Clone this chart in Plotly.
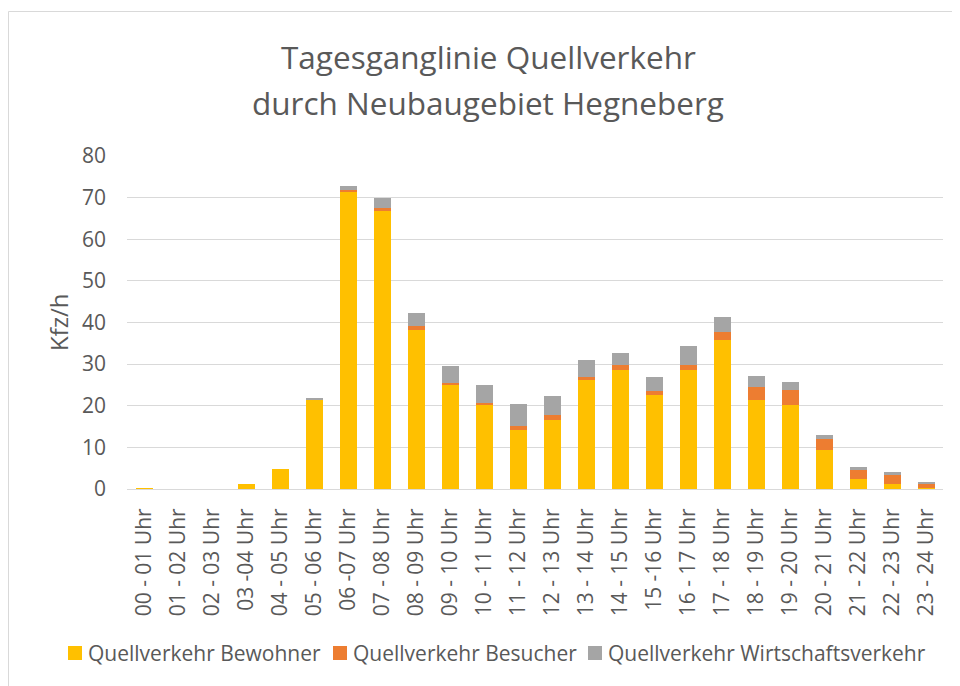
import plotly.graph_objects as go

categories = ["00 - 01 Uhr", "01 - 02 Uhr", "02 - 03 Uhr", "03 -04 Uhr", "04 - 05 Uhr", "05 - 06 Uhr",
              "06 -07 Uhr", "07 - 08 Uhr", "08 - 09 Uhr", "09 - 10 Uhr", "10 - 11 Uhr", "11 - 12 Uhr",
              "12 - 13 Uhr", "13 - 14 Uhr", "14 - 15 Uhr", "15 -16 Uhr", "16 - 17 Uhr", "17 - 18 Uhr",
              "18 - 19 Uhr", "19 - 20 Uhr", "20 - 21 Uhr", "21 - 22 Uhr", "22 - 23 Uhr", "23 - 24 Uhr"]

bewohner = [0.1, 0, 0, 1.3, 4.8, 21.4, 71.5, 66.7, 38.1, 25.0, 20.2, 14.2,
            16.6, 26.2, 28.6, 22.6, 28.6, 35.7, 21.3, 20.1, 9.4, 2.3, 1.1, 0.2]
besucher = [0, 0, 0, 0, 0, 0.1, 0.4, 0.7, 1.0, 0.4, 0.4, 1.0,
            1.2, 0.8, 1.1, 0.9, 1.2, 2.0, 3.2, 3.7, 2.7, 2.3, 2.3, 1.2]
wirtschaft = [0, 0, 0, 0, 0, 0.4, 0.9, 2.5, 3.1, 4.1, 4.4, 5.2,
              4.5, 4.0, 2.9, 3.5, 4.5, 3.7, 2.6, 1.8, 0.9, 0.6, 0.6, 0.4]

title_lines = ["Tagesganglinie Quellverkehr", "durch Neubaugebiet Hegneberg"]
y_title = "Kfz/h"
series_names = ["Quellverkehr Bewohner", "Quellverkehr Besucher", "Quellverkehr Wirtschaftsverkehr"]
series_colors = ["#FFC000", "#ED7D31", "#A5A5A5"]
series_values = [bewohner, besucher, wirtschaft]

FONT = "Open Sans"
TXT = "#595959"
GRID = "#D9D9D9"

# page has an 8px body margin: figure coords = screen coords - 8
OFF = 8
W, H = 960 - OFF, 686 - OFF
SL, SR, ST, SB = 127, 943, 156, 489
L, T = SL - OFF, ST - OFF
R = W - (SR - OFF)
B = H - (SB - OFF)
pw, ph = W - L - R, H - T - B


def px(sx):
    return (sx - OFF - L) / pw


def py(sy):
    return (H - B - (sy - OFF)) / ph


fig = go.Figure()
for name, vals, col in zip(series_names, series_values, series_colors):
    fig.add_trace(go.Bar(x=categories, y=vals, name=name, showlegend=False,
                         marker=dict(color=col, line=dict(width=0))))

annotations = [
    dict(text=title_lines[0], x=px(488), y=py(56), xref="paper", yref="paper",
         xanchor="center", yanchor="middle", showarrow=False,
         font=dict(size=31.5, color=TXT, family=FONT)),
    dict(text=title_lines[1], x=px(488), y=py(103), xref="paper", yref="paper",
         xanchor="center", yanchor="middle", showarrow=False,
         font=dict(size=31.5, color=TXT, family=FONT)),
    dict(text=y_title, x=px(58), y=py(322), xref="paper", yref="paper",
         xanchor="center", yanchor="middle", showarrow=False, textangle=-90,
         font=dict(size=24, color=TXT, family=FONT)),
]

shapes = [
    dict(type="line", xref="paper", yref="paper", x0=px(8.5), x1=px(960), y0=py(11.5), y1=py(11.5),
         line=dict(color=GRID, width=1)),
    dict(type="line", xref="paper", yref="paper", x0=px(8.5), x1=px(8.5), y0=py(11.5), y1=py(686),
         line=dict(color=GRID, width=1)),
]

# custom legend (square + label), screen x positions of the squares
legend_x = [68, 333, 588]
for lx, name, col in zip(legend_x, series_names, series_colors):
    shapes.append(dict(type="rect", xref="paper", yref="paper",
                       x0=px(lx), x1=px(lx + 14), y0=py(660), y1=py(646),
                       fillcolor=col, line=dict(width=0)))
    annotations.append(dict(text=name, x=px(lx + 18), y=py(653), xref="paper", yref="paper",
                            xanchor="left", yanchor="middle", showarrow=False,
                            font=dict(size=21, color=TXT, family=FONT)))

fig.update_layout(
    width=W, height=H,
    barmode="stack", bargap=0.5,
    margin=dict(l=L, r=R, t=T, b=B, autoexpand=False),
    paper_bgcolor="white", plot_bgcolor="white",
    font=dict(family=FONT, color=TXT),
    showlegend=False,
    xaxis=dict(tickangle=-90, tickfont=dict(size=21, color=TXT), showgrid=False,
               showline=True, linecolor=GRID, linewidth=1, ticks="",
               ticklabelstandoff=10, automargin=False),
    yaxis=dict(range=[0, 80], dtick=10, tickfont=dict(size=21, color=TXT),
               gridcolor=GRID, gridwidth=1, zeroline=False, showline=False,
               ticks="", ticklabelstandoff=20, automargin=False),
    annotations=annotations,
    shapes=shapes,
)

fig.write_html("out.html")
